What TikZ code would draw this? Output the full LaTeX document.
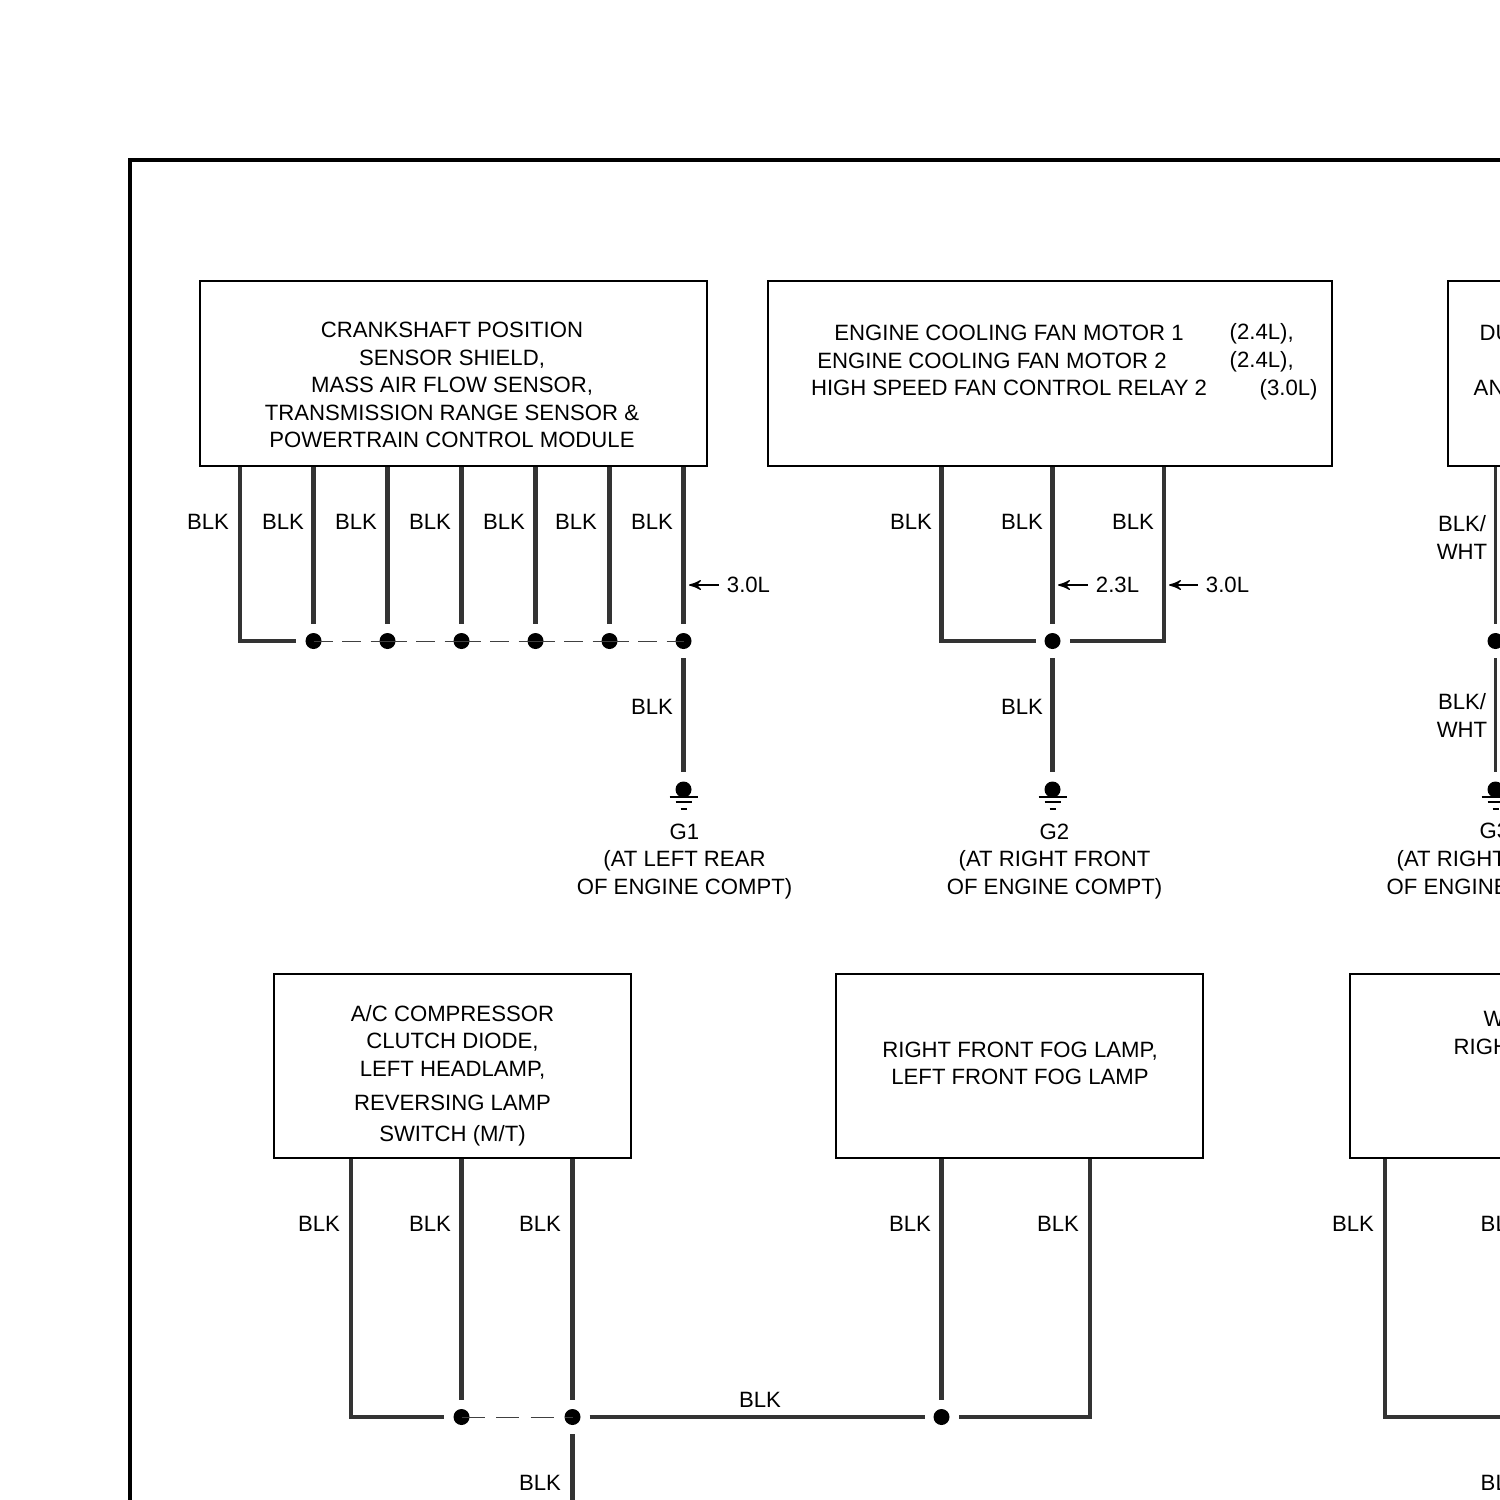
\documentclass[tikz,border=0pt]{standalone}
\usepackage{fontspec}
\setmainfont{Liberation Sans}
\usetikzlibrary{arrows}
\tikzstyle{every node}=[font=\fontsize{6.3}{7.82}\selectfont, inner sep=0pt, text=black]
\tikzstyle{box}=[draw=black, line width=0.018cm, fill=none]
\tikzstyle{dot}=[circle, fill=black, minimum size=0.16cm, outer sep=0.09cm]
\tikzstyle{wire}=[draw=black!80, line width=0.042cm, line join=miter]
\tikzstyle{link}=[draw=black!75, line width=0.01cm, dash pattern=on 0.19cm off 0.095cm]
\tikzstyle{gnd}=[draw=black, line width=0.012cm]
\tikzstyle{note}=[draw=black, line width=0.012cm, shorten >=0.07cm]
\tikzstyle{multi}=[align=center]
\tikzset{>=stealth'}

\begin{document}
\begin{tikzpicture}[x=0.01cm, y=-0.01cm]
\useasboundingbox (0,0) rectangle (1500,1500);
\clip (0,0) rectangle (1500,1500);

\draw [line width=0.04cm] (129.5,160.5) rectangle (1700,1700);

\node (crank) [box, minimum width=5.07cm, minimum height=1.85cm] at (453.5,373.5) {};
\node (fan)   [box, minimum width=5.64cm, minimum height=1.85cm] at (1050,373.5) {};
\node (dual)  [box, minimum width=3.00cm, minimum height=1.85cm] at (1598,373.5) {};
\node (comp)  [box, minimum width=3.57cm, minimum height=1.84cm] at (452.5,1066) {};
\node (fog)   [box, minimum width=3.67cm, minimum height=1.84cm] at (1019.5,1066) {};
\node (wiper) [box, minimum width=3.00cm, minimum height=1.84cm] at (1500,1066) {};

\node (cranktext) [multi] at (452,385) {CRANKSHAFT POSITION\\SENSOR SHIELD,\\MASS AIR FLOW SENSOR,\\TRANSMISSION RANGE SENSOR \&\\POWERTRAIN CONTROL MODULE};
\node (fan1)  at (1009,333) {ENGINE COOLING FAN MOTOR 1};
\node (fan2)  at (992,360.5) {ENGINE COOLING FAN MOTOR 2};
\node (fan3)  at (1009,388) {HIGH SPEED FAN CONTROL RELAY 2};
\node (year1) [anchor=west] at (1229,334) {(2.4L),};
\node (year2) [anchor=west] at (1229,362) {(2.4L),};
\node (year3) [anchor=west] at (1259,390) {(3.0L)};
\node (dual1) [anchor=west] at (1479,333) {DU};
\node (dual2) [anchor=west] at (1473,388) {AN};
\node (comptext) [multi] at (452.5,1075.5) {A/C COMPRESSOR\\CLUTCH DIODE,\\LEFT HEADLAMP,\\[0.07cm]REVERSING LAMP\\[0.03cm]SWITCH (M/T)};
\node (fogtext) [multi] at (1020,1063.5) {RIGHT FRONT FOG LAMP,\\LEFT FRONT FOG LAMP};
\node (wiper1) [anchor=west] at (1483,1019) {W};
\node (wiper2) [anchor=west] at (1453,1047) {RIGH};

\node (d1) [dot] at (313.5,641) {};
\node (d2) [dot] at (387.5,641) {};
\node (d3) [dot] at (461.5,641) {};
\node (d4) [dot] at (535.5,641) {};
\node (d5) [dot] at (609.5,641) {};
\node (d6) [dot] at (683.5,641) {};
\node (d7) [dot] at (1052.5,641) {};
\node (d8) [dot] at (1495.5,641) {};
\node (d9)  [dot] at (461.5,1417) {};
\node (d10) [dot] at (572.5,1417) {};
\node (d11) [dot] at (941.5,1417) {};

\node (g1) [dot] at (683.5,789.5) {};
\node (g2) [dot] at (1052.5,789.5) {};
\node (g3) [dot] at (1495.5,789.5) {};

\coordinate (c1) at (240,641);
\coordinate (c2) at (941.5,641);
\coordinate (c3) at (1164,641);
\coordinate (c4) at (351,1417);
\coordinate (c5) at (1090,1417);
\coordinate (c6) at (1385,1417);
\coordinate (e1) at (572.5,1520);
\coordinate (e2) at (1520,1417);
\coordinate (a1) at (689,585);
\coordinate (a2) at (1058,585);
\coordinate (a3) at (1169,585);

\draw [wire] (crank.south -| c1) -- (c1) -- (d1);
\draw [wire] (crank.south -| d1) -- (d1);
\draw [wire] (crank.south -| d2) -- (d2);
\draw [wire] (crank.south -| d3) -- (d3);
\draw [wire] (crank.south -| d4) -- (d4);
\draw [wire] (crank.south -| d5) -- (d5);
\draw [wire] (crank.south -| d6) -- (d6);
\draw [wire] (d6) -- (g1);
\draw [link] (d1.center) -- (d2.center);
\draw [link] (d2.center) -- (d3.center);
\draw [link] (d3.center) -- (d4.center);
\draw [link] (d4.center) -- (d5.center);
\draw [link] (d5.center) -- (d6.center);

\draw [wire] (fan.south -| c2) -- (c2) -- (d7);
\draw [wire] (fan.south -| d7) -- (d7);
\draw [wire] (fan.south -| c3) -- (c3) -- (d7);
\draw [wire] (d7) -- (g2);

\draw [wire, line width=0.03cm] (dual.south -| d8) -- (d8);
\draw [wire, line width=0.03cm] (d8) -- (g3);

\draw [wire] (comp.south -| c4) -- (c4) -- (d9);
\draw [wire] (comp.south -| d9) -- (d9);
\draw [wire] (comp.south -| d10) -- (d10);
\draw [wire] (d10) -- (d11);
\draw [wire] (d10) -- (e1);
\draw [link, dash pattern=on 0.23cm off 0.115cm] (d9.center) -- (d10.center);
\draw [wire] (fog.south -| d11) -- (d11);
\draw [wire] (fog.south -| c5) -- (c5) -- (d11);
\draw [wire] (wiper.south -| c6) -- (c6) -- (e2);

\draw [gnd] (g1.center) ++(-14,7.5) -- ++(28,0) ++(-22,5) -- ++(16,0) ++(-11,7) -- ++(6,0);
\draw [gnd] (g2.center) ++(-14,7.5) -- ++(28,0) ++(-22,5) -- ++(16,0) ++(-11,7) -- ++(6,0);
\draw [gnd] (g3.center) ++(-14,7.5) -- ++(28,0) ++(-22,5) -- ++(16,0) ++(-11,7) -- ++(6,0);

\node (blk1)  at (208,521.5)  {BLK};
\node (blk2)  at (283,521.5)  {BLK};
\node (blk3)  at (356,521.5)  {BLK};
\node (blk4)  at (430,521.5)  {BLK};
\node (blk5)  at (504,521.5)  {BLK};
\node (blk6)  at (576,521.5)  {BLK};
\node (blk7)  at (652,521.5)  {BLK};
\node (blk8)  at (652,706.5)  {BLK};
\node (blk9)  at (911,521.5)  {BLK};
\node (blk10) at (1022,521.5) {BLK};
\node (blk11) at (1133,521.5) {BLK};
\node (blk12) at (1022,706.5) {BLK};
\node (blk13) at (319,1223.5) {BLK};
\node (blk14) at (430,1223.5) {BLK};
\node (blk15) at (540,1223.5) {BLK};
\node (blk16) at (910,1223.5) {BLK};
\node (blk17) at (1058,1223.5) {BLK};
\node (blk18) at (760,1399.5) {BLK};
\node (blk19) at (540,1482.5) {BLK};
\node (blk20) at (1353,1223.5) {BLK};
\node (blk21) [anchor=west] at (1480,1223.5) {BL};
\node (blk22) [anchor=west] at (1480,1482.5) {BL};
\node (bw1) [multi] at (1462,537.5) {BLK/\\WHT};
\node (bw2) [multi] at (1462,715.5) {BLK/\\WHT};

\node (n1) at (748.5,585)  {3.0L};
\node (n2) at (1117.5,585) {2.3L};
\node (n3) at (1227.5,585) {3.0L};
\draw [<-, note] (a1) -- (n1);
\draw [<-, note] (a2) -- (n2);
\draw [<-, note] (a3) -- (n3);

\node (g1text) [multi] at (684.5,861.5) {G1\\(AT LEFT REAR\\OF ENGINE COMPT)};
\node (g2text) [multi] at (1054.5,861.5)  {G2\\(AT RIGHT FRONT\\OF ENGINE COMPT)};
\node (g3a) [anchor=west] at (1479,831) {G3};
\node (g3b) [anchor=west] at (1396,861) {(AT RIGHT};
\node (g3c) [anchor=west] at (1386,887) {OF ENGINE};

\end{tikzpicture}
\end{document}
